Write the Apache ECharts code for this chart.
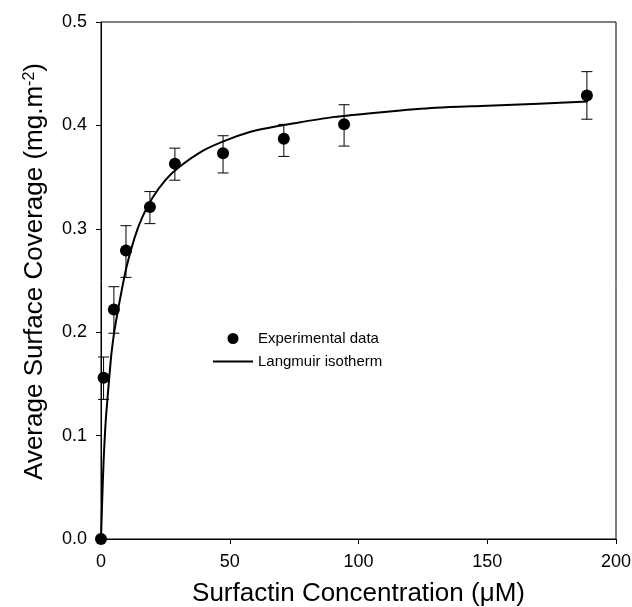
<!DOCTYPE html>
<html>
<head>
<meta charset="utf-8">
<script src="https://cdn.jsdelivr.net/npm/echarts@6/dist/echarts.min.js"></script>
<style>html,body{margin:0;padding:0;background:#fff}#main{width:632px;height:607px}</style>
</head>
<body>
<div id="main"></div>
<script>
// measured points (surfactin conc. uM, coverage mg/m2)
var concX = [0, 1, 5, 9.7, 19, 28.7, 47.4, 71, 94.4, 188.7];
var coverY = [0, 0.156, 0.222, 0.279, 0.321, 0.363, 0.373, 0.387, 0.401, 0.429];
var errHigh = [0, 0.176, 0.244, 0.303, 0.336, 0.378, 0.390, 0.401, 0.420, 0.452];
var errLow = [0, 0.135, 0.199, 0.253, 0.305, 0.347, 0.354, 0.370, 0.380, 0.406];
// fitted langmuir curve
var fitX = [0, 0.5, 1, 1.5, 2, 3, 4, 5, 6, 8, 10, 13, 16, 20, 25, 30, 40, 50, 60, 75, 90, 110, 130, 150, 170, 189];
var fitY = [0, 0.04, 0.075, 0.10, 0.12, 0.15, 0.178, 0.198, 0.213, 0.240, 0.264, 0.291, 0.311, 0.330, 0.347, 0.359, 0.376, 0.387, 0.395, 0.402, 0.408, 0.413, 0.417, 0.419, 0.421, 0.423];
var xTicks = [0, 50, 100, 150, 200];

var font = 'Liberation Sans, Arial, sans-serif';
var pts = concX.map(function (x, i) { return [x, coverY[i]]; });
var bars = concX.slice(1).map(function (x, i) { return [x, errLow[i + 1], errHigh[i + 1]]; });
var fit = fitX.map(function (x, i) { return [x, fitY[i]]; });

var myChart = echarts.init(document.getElementById('main'));
var option = {
    backgroundColor: '#fff',
    animation: false,
    grid: {left: 101, right: 16, top: 22, bottom: 68, show: true, borderColor: '#000', borderWidth: 1,
        outerBoundsMode: 'none', containLabel: false},
    legend: {
        orient: 'vertical',
        left: 207, top: 326,
        itemWidth: 40, itemHeight: 11, itemGap: 8,
        textStyle: {fontSize: 15, color: '#000', fontFamily: font},
        data: [
            {name: 'Experimental data'},
            {name: 'Langmuir isotherm', itemStyle: {opacity: 0}, lineStyle: {width: 2, color: '#000'}}
        ]
    },
    xAxis: {
        type: 'value', min: 0, max: 200, interval: 50,
        name: 'Surfactin Concentration (\u03bcM)',
        nameLocation: 'middle', nameGap: 42,
        nameTextStyle: {fontSize: 26, color: '#000', fontFamily: font},
        axisLine: {lineStyle: {color: '#000'}},
        axisTick: {length: 5, lineStyle: {color: '#000'}},
        axisLabel: {fontSize: 18, color: '#000', fontFamily: font, margin: 14,
            formatter: function (v) { return xTicks.indexOf(v) >= 0 ? String(v) : ''; }},
        splitLine: {show: false}
    },
    yAxis: {
        type: 'value', min: 0, max: 0.5, interval: 0.1,
        name: 'Average Surface Coverage (mg.m{sup|-2})',
        nameLocation: 'middle', nameGap: 53,
        nameTextStyle: {fontSize: 26, color: '#000', fontFamily: font, padding: [0, 0, 0, 18],
            rich: {sup: {fontSize: 16, color: '#000', fontFamily: font, verticalAlign: 'top', lineHeight: 16, padding: [0, 0, 12, 0]}}},
        axisLine: {lineStyle: {color: '#000'}},
        axisTick: {length: 5, lineStyle: {color: '#000'}},
        axisLabel: {fontSize: 18, color: '#000', fontFamily: font, margin: 14,
            formatter: function (v) { return v.toFixed(1); }},
        splitLine: {show: false}
    },
    series: [
        {
            name: 'Langmuir isotherm',
            type: 'line',
            data: fit,
            smooth: 0.3,
            symbol: 'none',
            lineStyle: {color: '#000', width: 2},
            itemStyle: {color: '#000'},
            z: 3
        },
        {
            name: 'errbars',
            type: 'custom',
            data: bars,
            renderItem: function (params, api) {
                var x = api.value(0);
                var lo = api.coord([x, api.value(1)]);
                var hi = api.coord([x, api.value(2)]);
                var w = 5.5;
                var st = {stroke: '#000', lineWidth: 1};
                return {
                    type: 'group',
                    children: [
                        {type: 'line', shape: {x1: lo[0], y1: lo[1], x2: hi[0], y2: hi[1]}, style: st},
                        {type: 'line', shape: {x1: lo[0] - w, y1: lo[1], x2: lo[0] + w, y2: lo[1]}, style: st},
                        {type: 'line', shape: {x1: hi[0] - w, y1: hi[1], x2: hi[0] + w, y2: hi[1]}, style: st}
                    ]
                };
            },
            z: 2
        },
        {
            name: 'Experimental data',
            type: 'scatter',
            data: pts,
            symbol: 'circle',
            symbolSize: 12,
            clip: false,
            itemStyle: {color: '#000', opacity: 1},
            z: 4
        }
    ]
};
myChart.setOption(option);
</script>
</body>
</html>
